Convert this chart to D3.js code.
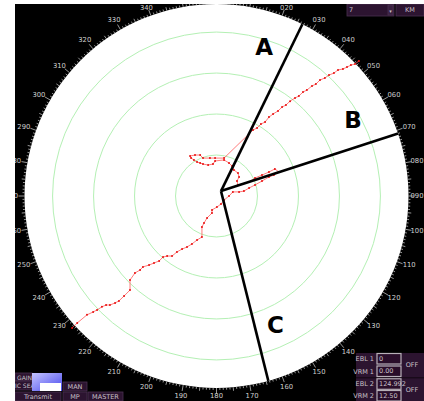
<!DOCTYPE html>
<html>
<head>
<meta charset="utf-8">
<script src="https://cdn.jsdelivr.net/npm/d3@7"></script>
<style>
  body { margin: 0; background: #fff; }
  text { font-family: "DejaVu Sans", sans-serif; }
</style>
</head>
<body>
<div id="chart"></div>
<script>
const width = 424,
    height = 401,
    cx = 216.5,
    cy = 196,
    radius = 192;

// range shown from centre to edge (km) and range rings
const displayRange = 9.37;
const ringRanges = [2, 4, 6, 8];

// own ship offset from centre (km east, km north)
const ownship = [0.22, 0.24];

// bearing lines and their letters
const eblNames = ["A", "B", "C"];
const eblBearings = [26, 72, 166];
const labelEast = [2.32, 6.66, 2.88];
const labelNorth = [7.29, 3.73, -6.29];

// bearing scale labels
const bearingLabels = ["000","010","020","030","040","050","060","070","080","090","100","110",
    "120","130","140","150","160","170","180","190","200","210","220","230",
    "240","250","260","270","280","290","300","310","320","330","340","350"];

// red track (km east / km north of centre)
const trackEast = [-7.05,-6.80,-6.32,-6.02,-5.83,-5.59,-5.39,-5.20,-4.95,-4.76,-4.51,-4.22,-4.22,-3.98,-3.73,-3.59,
    -3.29,-3.05,-2.80,-2.61,-2.41,-2.17,-1.93,-1.68,-1.44,-1.20,-0.95,-0.71,-0.71,-0.61,-0.46,-0.22,-0.22,0.02,0.22,0.37,
    0.61,0.80,1.10,1.34,1.59,1.88,2.22,2.56,2.80,3.05,2.85,2.56,2.22,1.88,1.59,1.24,1.05,1.00,1.10,1.05,0.85,0.76,0.61,0.37,
    -0.07,-0.17,-0.41,-0.66,-0.80,-0.95,-1.10,-1.24,-1.29,-1.05,-0.80,-0.66,-0.32,-0.07,0.37,
    1.78,1.98,2.17,2.37,2.56,2.76,3.00,3.20,3.39,3.59,3.83,4.02,4.22,4.41,4.66,4.85,5.05,5.29,5.49,5.73,5.93,6.17,6.37,6.56,6.76,6.95];
const trackNorth = [-6.44,-6.20,-5.80,-5.66,-5.56,-5.41,-5.32,-5.32,-5.22,-5.12,-4.88,-4.59,-4.10,-3.76,-3.61,-3.46,
    -3.37,-3.27,-3.17,-2.98,-2.93,-2.93,-2.73,-2.59,-2.49,-2.34,-2.15,-2.00,-1.51,-1.32,-1.07,-0.83,-0.68,-0.54,-0.39,-0.20,
    0.00,0.20,0.20,0.24,0.39,0.54,0.73,0.93,1.02,1.17,1.32,1.17,1.02,0.88,0.68,0.59,0.54,0.73,0.93,1.12,1.27,1.46,1.61,1.76,
    1.71,1.56,1.51,1.56,1.61,1.66,1.76,1.85,1.95,2.00,2.00,1.85,1.85,1.85,1.85,
    3.22,3.32,3.51,3.61,3.85,4.00,4.15,4.34,4.44,4.63,4.78,4.88,5.07,5.17,5.37,5.46,5.66,5.76,5.90,6.00,6.15,6.20,6.29,6.39,6.44,6.59];

const track = d3.zip(trackEast, trackNorth);

const x = d3.scaleLinear().domain([-displayRange, displayRange]).range([cx - radius, cx + radius]);
const y = d3.scaleLinear().domain([-displayRange, displayRange]).range([cy + radius, cy - radius]);
const r = d3.scaleLinear().domain([0, displayRange]).range([0, radius]);

const svg = d3.select("#chart")
    .append("svg")
    .attr("width", width)
    .attr("height", height)
    .attr("viewBox", [0, 0, width, height]);

const defs = svg.append("defs");
defs.append("clipPath").attr("id", "screen")
    .append("rect").attr("x", 15).attr("y", 4).attr("width", width - 15).attr("height", height - 4);

// black screen
svg.append("rect")
    .attr("x", 15).attr("y", 4)
    .attr("width", width - 15).attr("height", height - 4)
    .attr("fill", "#000");

const scr = svg.append("g").attr("clip-path", "url(#screen)");

// radar disc
scr.append("circle")
    .attr("cx", cx).attr("cy", cy).attr("r", radius)
    .attr("fill", "#fff");

scr.selectAll(".ring")
    .data(ringRanges)
    .enter()
    .append("circle")
    .attr("cx", cx).attr("cy", cy)
    .attr("r", d => r(d))
    .attr("fill", "none")
    .attr("stroke", "#b4f0b4")
    .attr("stroke-width", 1);

// bearing ticks
const rad = d => (d - 90) * Math.PI / 180;
scr.selectAll(".tick")
    .data(d3.range(0, 360, 1))
    .enter()
    .append("line")
    .attr("x1", d => cx + radius * Math.cos(rad(d)))
    .attr("y1", d => cy + radius * Math.sin(rad(d)))
    .attr("x2", d => cx + (radius + (d % 10 == 0 ? 6 : d % 5 == 0 ? 3.5 : 2)) * Math.cos(rad(d)))
    .attr("y2", d => cy + (radius + (d % 10 == 0 ? 6 : d % 5 == 0 ? 3.5 : 2)) * Math.sin(rad(d)))
    .attr("stroke", "#d8d8d8")
    .attr("stroke-width", 0.7);

// labels that fall off the top of the screen are not shown
const labelPos = bearingLabels.map((d, i) => ({
    text: d,
    x: cx + (radius + 13) * Math.cos(rad(i * 10)),
    y: cy + (radius + 11) * Math.sin(rad(i * 10))
})).filter(d => d.y > 2);

scr.selectAll(".blabel")
    .data(labelPos)
    .enter()
    .append("text")
    .attr("x", d => Math.min(d.x, 417))
    .attr("y", d => Math.max(8, Math.min(d.y, 396)))
    .attr("text-anchor", "middle")
    .attr("dominant-baseline", "central")
    .attr("font-size", 6.8)
    .attr("fill", "#d0d0d0")
    .text(d => d.text);

// track
const line = d3.line().x(d => x(d[0])).y(d => y(d[1]));
scr.append("path")
    .datum(track)
    .attr("d", line)
    .attr("fill", "none")
    .attr("stroke", "#ff5a5a")
    .attr("stroke-width", 0.8);

scr.selectAll(".pt")
    .data(track)
    .enter()
    .append("circle")
    .attr("cx", d => x(d[0]))
    .attr("cy", d => y(d[1]))
    .attr("r", 1)
    .attr("fill", "#e81010");

// bearing lines from own ship to disc edge
const ox = x(ownship[0]), oy = y(ownship[1]);
function edgePoint(b) {
    const dx = Math.sin(b * Math.PI / 180), dy = -Math.cos(b * Math.PI / 180);
    const px = ox - cx, py = oy - cy;
    const dp = dx * px + dy * py;
    const t = -dp + Math.sqrt(dp * dp - (px * px + py * py) + radius * radius);
    return [ox + t * dx, oy + t * dy];
}

scr.selectAll(".ebl")
    .data(eblBearings)
    .enter()
    .append("line")
    .attr("x1", ox).attr("y1", oy)
    .attr("x2", d => edgePoint(d)[0])
    .attr("y2", d => edgePoint(d)[1])
    .attr("stroke", "#000")
    .attr("stroke-width", 2.6);

scr.selectAll(".ename")
    .data(eblNames)
    .enter()
    .append("text")
    .attr("x", (d, i) => x(labelEast[i]))
    .attr("y", (d, i) => y(labelNorth[i]))
    .attr("text-anchor", "middle")
    .attr("dominant-baseline", "central")
    .attr("font-size", 23)
    .attr("font-weight", "bold")
    .attr("fill", "#000")
    .text(d => d);

// control panels
const panel = "#2c1430", border = "#4a3050", txt = "#c8c0c8";
function box(x0, y0, w, h, label, opts = {}) {
    scr.append("rect")
        .attr("x", x0).attr("y", y0).attr("width", w).attr("height", h)
        .attr("fill", opts.fill || panel)
        .attr("stroke", opts.stroke || border)
        .attr("stroke-width", opts.sw || 0.8);
    if (label) {
        scr.append("text")
            .attr("x", opts.anchor == "start" ? x0 + 2 : x0 + w / 2)
            .attr("y", y0 + h / 2)
            .attr("text-anchor", opts.anchor || "middle")
            .attr("dominant-baseline", "central")
            .attr("font-size", opts.fs || 6.5)
            .attr("fill", txt)
            .text(label);
    }
}

// top right
box(347, 4, 47, 12, "7", { anchor: "start" });
box(388, 5, 5, 10, "", { fill: "#3a2040" });
scr.append("text").attr("x", 390.5).attr("y", 10.5).attr("text-anchor", "middle")
    .attr("dominant-baseline", "central").attr("font-size", 5).attr("fill", txt).text("▾");
box(396, 4, 28, 12, "KM");

// bottom left
box(15, 373, 17, 8, "GAIN", { anchor: "start", fs: 6 });
box(13, 381, 19, 9, "IC SEA", { anchor: "start", fs: 6 });
const grad = defs.append("linearGradient").attr("id", "g1")
    .attr("x1", "0").attr("y1", "0").attr("x2", "1").attr("y2", "1");
grad.append("stop").attr("offset", "0").attr("stop-color", "#c4c4ff");
grad.append("stop").attr("offset", "1").attr("stop-color", "#4848ee");
scr.append("rect").attr("x", 32).attr("y", 373).attr("width", 30).attr("height", 18).attr("fill", "url(#g1)");
scr.append("rect").attr("x", 40).attr("y", 383).attr("width", 21).attr("height", 8).attr("fill", "#fff");
box(63, 382, 24, 9, "MAN");
box(15, 392, 46, 9, "Transmit");
box(63, 392, 24, 9, "MP");
box(88, 392, 35, 9, "MASTER");

// bottom right
scr.append("rect").attr("x", 356).attr("y", 353).attr("width", 68).attr("height", 48).attr("fill", panel);
scr.append("line").attr("x1", 356).attr("x2", 424).attr("y1", 377.8).attr("y2", 377.8)
    .attr("stroke", "#120612").attr("stroke-width", 1);
const eblRows = [["EBL 1", "0"], ["VRM 1", "0.00"], ["EBL 2", "124.992"], ["VRM 2", "12.50"]];
const rowY = [353.5, 366, 378.8, 390.5];
eblRows.forEach((row, i) => {
    scr.append("text").attr("x", 374).attr("y", rowY[i] + 5.5)
        .attr("text-anchor", "end").attr("dominant-baseline", "central")
        .attr("font-size", 6.5).attr("fill", txt).text(row[0]);
    box(377, rowY[i], 24, 10.5, row[1], { fill: "#2a0e2a", stroke: "#b8b0b8", sw: 1.2, anchor: "start" });
});
scr.append("text").attr("x", 412).attr("y", 365).attr("text-anchor", "middle")
    .attr("dominant-baseline", "central").attr("font-size", 6.5).attr("fill", txt).text("OFF");
scr.append("text").attr("x", 412).attr("y", 389.5).attr("text-anchor", "middle")
    .attr("dominant-baseline", "central").attr("font-size", 6.5).attr("fill", txt).text("OFF");
</script>
</body>
</html>
